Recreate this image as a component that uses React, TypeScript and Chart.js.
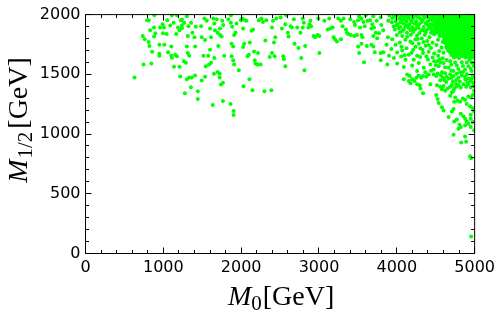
import React, { useEffect, useRef } from "react";
import { Chart, registerables } from "chart.js";

Chart.register(...registerables);

// Axis ranges and tick labels
const xRange = [0, 5000];
const yRange = [0, 2000];
const xTickLabels = [0, 1000, 2000, 3000, 4000, 5000];
const yTickLabels = [0, 500, 1000, 1500, 2000];

// Scan points [M0, M1/2] in GeV
const lowM0Points: [number, number][] = [
  [792,1953],[812,1953],[885,1994],[1051,1953],[1111,1994],[1175,1994],[1132,1931],[991,1920],[958,1893],[1009,1893],
  [1089,1909],[1226,1953],[1268,1931],[1239,1909],[1188,1893],[1208,1870],[830,1870],[881,1893],[898,1843],[881,1816],
  [736,1821],[761,1794],[812,1771],[821,1738],[996,1843],[1042,1837],[1166,1837],[949,1747],[1013,1747],[1102,1733],
  [856,1689],[949,1672],[949,1656],[1060,1684],[1102,1656],[1111,1639],[1153,1664],[1175,1651],[1264,1610],[745,1582],
  [847,1590],[1137,1563],[1208,1563],[1239,1960],[1239,1885],
  [630,1474],[1217,1482],[1302,1458],[1332,1474],[1366,1474],[1408,1491],[1494,1449],[1536,1480],[1651,1505],[1724,1505],
  [1724,1474],[1766,1430],[1741,1414],[1354,1392],[1277,1342],[1443,1359],[1443,1293],[1635,1243],[1766,1276],[1864,1251],
  [1903,1194],[1903,1160],[2030,1400],[2107,1458],[2145,1367],[2299,1359],[2388,1367],
  [1302,1986],[1323,1903],[1315,1821],[1302,1733],[1315,1678],[1332,1656],[1290,1596],[1357,1931],[1374,1849],[1400,1810],
  [1417,1898],[1409,1733],[1485,1903],[1494,1810],[1515,1656],[1527,1967],[1558,1948],[1536,1788],[1600,1884],[1613,1810],
  [1578,1656],[1600,1705],[1587,1582],[1545,1568],[1613,1596],[1642,1967],[1686,1961],[1655,1926],[1664,1870],[1698,1849],
  [1728,1884],[1728,1829],[1749,1816],[1757,1948],[1770,1912],[1706,1738],[1655,1637],[1783,1656],[1698,1519],[1834,1961],
  [1868,1994],[1868,1931],[1885,1898],[1910,1829],[1928,1849],[1941,1926],[1877,1755],[1898,1733],[1877,1651],[1898,1618],
  [1910,1582],[1970,1535],[1996,1953],[2013,1967],[2025,1884],[2038,1755],[2025,1728],[2082,1651],[2098,1664],[2047,1953],
  [2069,1948],[2133,1865],[2153,1876],[2111,1766],[2166,1692],[2217,1678],[2175,1618],[2184,1590],[2209,1582],[2251,1582],
  [2226,1953],[2260,1967],[2281,1939],[2324,1953],[2396,1893],[2409,1948],[2452,1967],[2507,1975],[2524,1884],[2439,1810],
  [2422,1766],[2311,1783],[2396,1678],[2366,1645],[2549,1628],[2430,1651],[2541,1651],
];

const midM0Points: [number, number][] = [
  [2580,1994],[2635,1903],[2652,1893],[2677,1961],[2567,1920],[2720,1893],[2600,1849],[2609,1816],[2686,1755],[2737,1720],
  [2762,1849],[2792,1967],[2805,1931],[2792,1893],[2822,1738],[2864,1893],[2877,1920],[2899,1903],[2890,1948],[2771,1637],
  [2567,1568],[2813,1535],[2932,1821],[2950,1810],[2983,1829],[3005,1821],[3005,1678],[2992,1967],[3069,1948],[3111,1876],
  [3145,1884],[3175,1893],[3132,1967],[3188,1810],[3205,1794],[3231,1775],[3247,1967],[3282,1948],[3282,1794],[3316,1967],
  [3303,1903],[3346,1876],[3359,1849],[3375,1837],[3410,1829],[3452,1821],[3486,1829],[3401,1961],[3452,1939],[3461,1912],
  [3503,1953],[3516,1986],[3545,1967],[3571,1939],[3588,1903],[3528,1893],[3545,1829],[3558,1810],[3545,1755],[3503,1733],
  [3614,1738],[3656,1953],[3686,1920],[3673,1884],[3707,1893],[3729,1849],[3771,1843],[3698,1821],[3749,1802],[3793,1975],
  [3801,1912],[3826,1870],[3673,1747],[3698,1733],[3516,1678],[3579,1601],[3716,1684],[3793,1678],[3826,1684],[3793,1618],
  [3622,1948],[3742,1948],[3601,1994],[3698,1986],
];

const highM0Points: [number, number][] = [
  [3905,1995],[3960,1990],[4010,1997],[4065,1988],[4120,1994],[4170,1991],[4230,1996],[4280,1989],[4335,1995],[4390,1992],[4440,1997],
  [3940,1972],[4030,1966],[4095,1975],[4150,1968],[4210,1973],[4300,1965],[4360,1974],[4420,1969],
  [3890,1948],[3985,1944],[4060,1951],[4125,1942],[4185,1949],[4250,1945],[4330,1952],[4400,1943],
  [4010,1920],[4080,1928],[4160,1918],[4230,1926],[4290,1921],[4370,1927],[4435,1919],
  [3960,1900],[4045,1896],[4110,1903],[4200,1894],[4265,1901],[4345,1897],[4410,1904],
  [3975,1875],[4090,1878],[4175,1872],[4240,1880],[4320,1869],[4390,1876],
  [4040,1852],[4130,1848],[4210,1855],[4290,1846],[4370,1853],[4440,1849],
  [3886,1810],[3941,1793],[3869,1747],[3984,1747],[4039,1766],[3929,1711],[4005,1683],[4069,1700],[3899,1656],[3963,1637],
  [4056,1650],[4112,1623],[4133,1815],[4175,1774],[4239,1793],[4282,1755],[4124,1719],[4210,1705],[4303,1719],[4154,1664],
  [4261,1656],[4337,1678],[4218,1623],
  [3878,1582],[4005,1590],[4090,1562],[4197,1573],[4282,1595],[4346,1554],[4431,1582],[4261,1527],[4367,1518],[4473,1540],
  [4537,1568],[4601,1595],[4665,1554],[4729,1527],[4771,1573],[4835,1601],[4878,1540],[4920,1568],[4963,1527],[4984,1595],
  [4580,1518],[4686,1609],[4814,1518],[4516,1609],[4933,1623],
  [4360,1830],[4420,1810],[4480,1835],[4550,1820],[4390,1780],[4460,1765],[4530,1790],[4590,1770],[4370,1740],[4440,1720],
  [4510,1745],[4575,1725],[4410,1690],[4480,1675],[4545,1695],[4600,1680],[4380,1650],[4460,1640],[4530,1655],[4590,1635],
  [3985,1982],[4045,1978],[4100,1958],[4140,1985],[4200,1960],[4260,1980],[4315,1962],[4375,1984],[4425,1958],[3935,1935],
  [3995,1910],[4050,1935],[4120,1912],[4190,1935],[4255,1912],[4320,1938],[4395,1912],[4025,1885],[4070,1862],[4150,1890],
  [4215,1866],[4280,1888],[4355,1866],[4425,1885],[4000,1830],[4070,1820],[4180,1832],[4260,1826],[4320,1800],[4110,1790],
  [4200,1760],[4270,1795],[4345,1770],[4060,1730],[4240,1730],[4330,1705],[4190,1680],[4100,1660],[4300,1645],[4410,1745],
  [4400,1625],[4480,1610],[4550,1625],
];

const coreM0Points: [number, number][] = [
  [4455,1996],[4500,1992],[4548,1998],[4590,1990],[4640,1995],[4685,1993],[4730,1998],[4775,1991],[4820,1996],[4865,1992],[4910,1997],[4955,1990],[4992,1995],
  [4478,1985],[4525,1982],[4570,1987],[4618,1980],[4662,1984],[4708,1981],[4755,1986],[4798,1983],[4842,1979],[4888,1985],[4932,1981],[4975,1984],
  [4470,1972],[4520,1968],[4565,1975],[4615,1970],[4660,1966],[4705,1974],[4752,1969],[4800,1976],[4843,1970],[4888,1967],[4935,1973],[4978,1969],
  [4445,1961],[4492,1958],[4540,1963],[4590,1959],[4638,1962],[4682,1957],[4728,1960],[4775,1963],[4820,1958],[4865,1961],[4912,1957],[4955,1962],[4998,1959],
  [4458,1950],[4505,1946],[4545,1953],[4598,1948],[4642,1944],[4690,1951],[4735,1947],[4780,1954],[4828,1945],[4872,1950],[4918,1946],[4962,1952],[4995,1948],
  [4500,1938],[4552,1936],[4600,1940],[4645,1935],[4690,1939],[4738,1936],[4782,1940],[4828,1934],[4875,1938],[4920,1935],[4965,1940],
  [4480,1926],[4530,1922],[4578,1929],[4620,1924],[4668,1920],[4712,1928],[4760,1923],[4805,1930],[4850,1921],[4897,1927],[4942,1924],[4985,1929],
  [4440,1915],[4485,1912],[4532,1917],[4580,1913],[4628,1916],[4672,1911],[4718,1915],[4765,1918],[4812,1912],[4858,1916],[4905,1913],[4948,1917],[4992,1912],
  [4462,1903],[4510,1899],[4555,1906],[4605,1901],[4650,1897],[4695,1905],[4742,1900],[4788,1907],[4835,1898],[4880,1904],[4925,1900],[4970,1906],
  [4515,1891],[4562,1889],[4610,1893],[4655,1888],[4700,1892],[4748,1889],[4792,1893],[4840,1887],[4885,1891],[4930,1888],[4975,1893],
  [4490,1880],[4540,1876],[4585,1883],[4632,1878],[4678,1874],[4722,1882],[4770,1877],[4815,1884],[4860,1875],[4908,1881],[4952,1877],[4993,1883],
  [4450,1868],[4505,1866],[4560,1870],[4608,1865],[4652,1869],[4698,1866],[4745,1870],[4790,1864],[4838,1868],[4882,1865],[4928,1870],[4970,1866],
  [4470,1857],[4520,1853],[4570,1860],[4615,1855],[4660,1851],[4708,1859],[4752,1854],[4798,1861],[4845,1852],[4890,1858],[4938,1854],[4980,1860],
  [4495,1845],[4545,1842],[4595,1847],[4640,1843],[4685,1846],[4730,1841],[4778,1845],[4822,1848],[4868,1842],[4912,1846],[4958,1843],[4998,1847],
  [4610,1833],[4655,1829],[4700,1836],[4748,1831],[4792,1827],[4838,1835],[4882,1830],[4928,1837],[4972,1828],
  [4588,1820],[4632,1818],[4678,1822],[4725,1817],[4770,1821],[4815,1818],[4860,1822],[4905,1816],[4950,1820],[4995,1817],
  [4630,1808],[4678,1804],[4722,1811],[4768,1806],[4815,1802],[4860,1810],[4905,1805],[4950,1812],[4994,1803],
  [4610,1796],[4655,1794],[4700,1798],[4745,1793],[4792,1797],[4838,1794],[4882,1798],[4928,1792],[4972,1796],
  [4605,1784],[4650,1780],[4698,1787],[4745,1782],[4790,1778],[4836,1786],[4880,1781],[4926,1788],[4970,1779],
  [4628,1772],[4675,1770],[4720,1774],[4768,1769],[4812,1773],[4858,1770],[4902,1774],[4948,1768],[4992,1772],
  [4625,1760],[4672,1756],[4718,1763],[4765,1758],[4812,1754],[4858,1762],[4903,1757],[4948,1764],[4992,1755],
  [4650,1747],[4695,1745],[4742,1749],[4788,1744],[4835,1748],[4880,1745],[4925,1749],[4970,1744],
  [4640,1735],[4690,1731],[4738,1738],[4785,1733],[4830,1729],[4875,1737],[4920,1732],[4965,1739],
  [4638,1722],[4682,1720],[4730,1724],[4778,1719],[4825,1723],[4870,1720],[4918,1724],[4962,1719],
  [4660,1710],[4705,1706],[4755,1713],[4800,1708],[4848,1704],[4895,1712],[4940,1707],[4985,1714],
  [4660,1698],[4705,1696],[4752,1700],[4800,1695],[4848,1699],[4892,1696],[4938,1700],[4983,1695],
  [4680,1686],[4730,1682],[4778,1689],[4825,1684],[4870,1680],[4915,1688],[4960,1683],
  [4705,1674],[4752,1672],[4800,1676],[4845,1671],[4890,1675],[4938,1672],[4980,1676],
  [4700,1662],[4760,1658],[4810,1665],[4860,1660],[4905,1656],[4950,1664],[4993,1659],
  [4730,1650],[4780,1648],[4835,1652],[4905,1647],[4960,1651],
  [4735,1640],[4800,1636],[4880,1642],[4940,1634],[4985,1640],
];

const tailPoints: [number, number][] = [
  [4440,1530],[4500,1575],[4560,1600],[4620,1560],[4640,1620],[4700,1580],[4750,1600],[4790,1545],[4850,1570],[4900,1600],
  [4950,1545],[4990,1570],[4620,1510],[4700,1530],[4770,1505],[4850,1520],[4900,1500],[4960,1600],[4560,1450],[4640,1480],
  [4720,1440],[4810,1440],[4880,1455],[4960,1465],[4700,1470],[4760,1420],[4910,1430],[4980,1430],
  [4133,1499],[4167,1485],[4197,1458],[4227,1444],[4252,1472],[4282,1491],[4312,1472],[4337,1485],[4380,1480],[4410,1499],
  [4473,1499],[4507,1485],[4525,1507],[4567,1491],[4593,1472],[4610,1452],[4635,1436],[4665,1463],[4686,1499],[4729,1485],
  [4763,1452],[4793,1472],[4835,1491],[4878,1480],[4920,1463],[4950,1444],[4976,1491],[4993,1472],[4090,1458],[4154,1444],
  [4175,1425],[4261,1417],[4295,1408],[4303,1381],[4337,1342],[4431,1417],[4516,1408],[4559,1397],[4580,1375],[4601,1403],
  [4622,1362],[4652,1381],[4686,1397],[4707,1408],[4737,1381],[4763,1397],[4793,1408],[4822,1389],[4856,1417],[4891,1397],
  [4920,1417],[4950,1389],[4984,1403],[4993,1362],[4507,1326],[4525,1293],[4537,1260],[4580,1224],[4601,1197],[4665,1142],
  [4707,1188],[4729,1210],[4737,1271],[4750,1307],[4780,1279],[4814,1271],[4848,1298],[4878,1287],[4920,1315],[4950,1307],
  [4976,1326],[4899,1252],[4942,1232],[4976,1216],[4993,1188],[4822,1169],[4856,1150],[4878,1128],[4950,1161],[4737,1106],
  [4771,1122],[4805,1078],[4822,1059],[4878,1073],[4899,1106],[4920,1087],[4950,1059],[4976,1100],[4993,1032],[4793,1045],
  [4950,1128],[4729,1362],[4686,1320],[4707,1348],
  [4729,995],[4878,979],[4827,929],[4891,935],[4942,814],[4955,797],[4955,143],
];

const allPoints = [...lowM0Points, ...midM0Points, ...highM0Points, ...coreM0Points, ...tailPoints];

type Part = { text: string; font: string; dy: number; gap?: number };

function drawParts(ctx: CanvasRenderingContext2D, parts: Part[], cx: number, baseline: number) {
  let total = 0;
  const widths = parts.map((p) => {
    ctx.font = p.font;
    const w = ctx.measureText(p.text).width + (p.gap || 0);
    total += w;
    return w;
  });
  let x = cx - total / 2;
  ctx.textAlign = "left";
  ctx.textBaseline = "alphabetic";
  parts.forEach((p, i) => {
    ctx.font = p.font;
    ctx.fillText(p.text, x, baseline + p.dy);
    x += widths[i];
  });
}

const framePlugin = {
  id: "frameTicks",
  afterDatasetsDraw(chart: any) {
    const { ctx, chartArea: a, scales } = chart;
    const xs = scales.x;
    const ys = scales.y;
    ctx.save();
    ctx.strokeStyle = "#000";
    ctx.lineWidth = 1;
    ctx.beginPath();
    ctx.rect(a.left, a.top, a.right - a.left, a.bottom - a.top);
    ctx.stroke();
    ctx.beginPath();
    for (let v = xRange[0]; v <= xRange[1]; v += 200) {
      const px = Math.round(xs.getPixelForValue(v) - 0.5) + 0.5;
      const len = v % 1000 === 0 ? 6 : 3.5;
      ctx.moveTo(px, a.bottom);
      ctx.lineTo(px, a.bottom - len);
      ctx.moveTo(px, a.top);
      ctx.lineTo(px, a.top + len);
    }
    for (let v = yRange[0]; v <= yRange[1]; v += 100) {
      const py = Math.round(ys.getPixelForValue(v) - 0.5) + 0.5;
      const len = v % 500 === 0 ? 6 : 3.5;
      ctx.moveTo(a.left, py);
      ctx.lineTo(a.left + len, py);
      ctx.moveTo(a.right, py);
      ctx.lineTo(a.right - len, py);
    }
    ctx.stroke();
    ctx.restore();
  },
  afterDraw(chart: any) {
    const { ctx, chartArea: a } = chart;
    ctx.save();
    ctx.fillStyle = "#000";
    const big = "28px 'Liberation Serif'";
    const bigIt = "italic 28px 'Liberation Serif'";
    const sub = "21px 'Liberation Serif'";
    drawParts(
      ctx,
      [
        { text: "M", font: bigIt, dy: 0, gap: 0 },
        { text: "0", font: sub, dy: 5, gap: 1 },
        { text: "[GeV]", font: big, dy: 0 },
      ],
      (a.left + a.right) / 2 + 1,
      305
    );
    ctx.translate(27, 120);
    ctx.rotate(-Math.PI / 2);
    drawParts(
      ctx,
      [
        { text: "M", font: bigIt, dy: 0, gap: 1 },
        { text: "1/2", font: sub, dy: 5, gap: 3 },
        { text: "[GeV]", font: big, dy: 0 },
      ],
      0,
      0
    );
    ctx.restore();
  },
};

export default function App() {
  const ref = useRef<HTMLCanvasElement | null>(null);
  useEffect(() => {
    document.body.style.margin = "0";
    const canvas = ref.current;
    if (!canvas) return;
    const chart = new Chart(canvas, {
      type: "scatter",
      data: {
        datasets: [
          {
            data: allPoints.map(([x, y]) => ({ x, y })),
            backgroundColor: "#00ff00",
            borderWidth: 0,
            pointRadius: 2,
            pointHoverRadius: 2,
            clip: 0,
          } as any,
        ],
      },
      options: {
        animation: false,
        responsive: false,
        maintainAspectRatio: false,
        events: [],
        layout: { padding: { left: 0, right: 22.5, top: 10.5, bottom: 0 } },
        plugins: { legend: { display: false }, tooltip: { enabled: false } },
        scales: {
          x: {
            type: "linear",
            min: xRange[0],
            max: xRange[1],
            afterFit: (s: any) => {
              s.height = 59.5;
            },
            afterBuildTicks: (s: any) => {
              s.ticks = xTickLabels.map((v) => ({ value: v }));
            },
            grid: { display: false, drawTicks: false },
            border: { display: false },
            ticks: {
              color: "#000",
              font: { family: "'DejaVu Sans'", size: 16 },
              padding: 5,
              maxRotation: 0,
              autoSkip: false,
              callback: (v: any) => String(v),
            },
          },
          y: {
            type: "linear",
            min: yRange[0],
            max: yRange[1],
            afterFit: (s: any) => {
              s.width = 85.5;
            },
            afterBuildTicks: (s: any) => {
              s.ticks = yTickLabels.map((v) => ({ value: v }));
            },
            grid: { display: false, drawTicks: false },
            border: { display: false },
            ticks: {
              color: "#000",
              font: { family: "'DejaVu Sans'", size: 16 },
              padding: 5,
              autoSkip: false,
              callback: (v: any) => String(v),
            },
          },
        },
      },
      plugins: [framePlugin],
    });
    return () => chart.destroy();
  }, []);
  return (
    <div style={{ width: 500, height: 313, background: "#fff" }}>
      <canvas ref={ref} width={500} height={313} style={{ display: "block" }} />
    </div>
  );
}
